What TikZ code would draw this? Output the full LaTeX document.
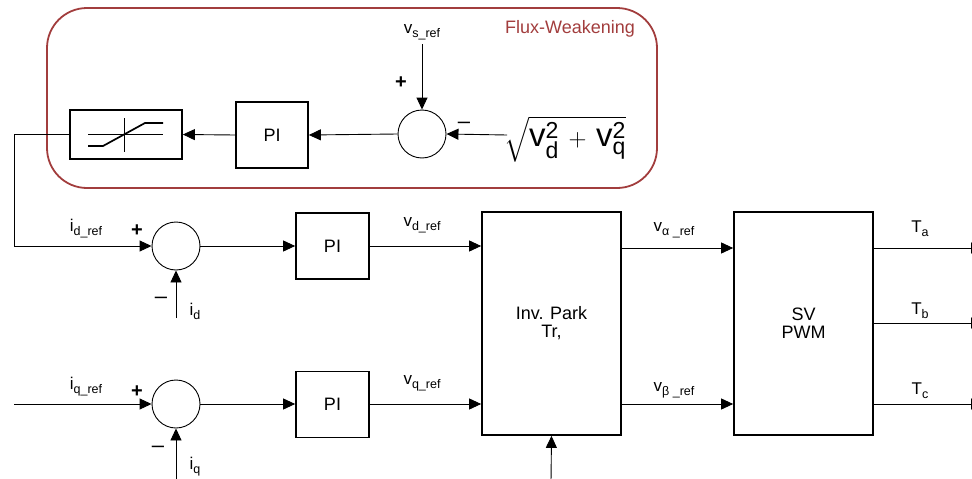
\documentclass[tikz,border=0pt]{standalone}
\usepackage{fontspec}
\setmainfont{Liberation Sans}
\usepackage{amsmath}
\usetikzlibrary{arrows.meta}
\definecolor{fwred}{HTML}{A23D3D}
\newcommand{\sublab}[2]{{\fontsize{17}{20}\selectfont #1}\raisebox{-4pt}{\fontsize{12.5}{14}\selectfont #2}}
\begin{document}
\begin{tikzpicture}[x=1pt,y=-1pt,
  blk/.style={draw, line width=1.7pt, inner sep=0pt, font=\fontsize{18}{21}\selectfont, align=center},
  sumc/.style={circle, draw, line width=0.9pt, minimum size=48pt, inner sep=0pt},
  wire/.style={line width=0.9pt},
  conn/.style={line width=0.9pt, -{Triangle[length=12pt,width=11pt]}},
  lab/.style={inner sep=0pt},
  sign/.style={inner sep=0pt, font=\fontsize{20}{22}\selectfont\bfseries},
  msign/.style={inner sep=0pt, font=\fontsize{22}{24}\selectfont}]
\useasboundingbox (0,0) rectangle (972,479);
\clip (0,0) rectangle (972,479);

% Flux-weakening frame
\node[draw=fwred, line width=1.8pt, rounded corners=40pt, minimum width=610pt, minimum height=180pt, inner sep=0pt] (fw) at (352,98) {};
\node[lab, text=fwred, font=\fontsize{18}{21}\selectfont] (fwt) at (570,29) {Flux-Weakening};

% top chain
\node[blk, minimum width=112pt, minimum height=49pt] (lim) at (126,134.5) {};
\draw[line width=0.9pt] ([shift={(-38pt,0)}]lim.center) -- ([shift={(37pt,0)}]lim.center);
\draw[line width=0.9pt] ([shift={(-2pt,-17pt)}]lim.center) -- ([shift={(-2pt,17pt)}]lim.center);
\draw[line width=1.7pt] ([shift={(-38pt,-11.5pt)}]lim.center) -- ([shift={(-23pt,-11.5pt)}]lim.center) -- ([shift={(19pt,11.5pt)}]lim.center) -- ([shift={(37pt,11.5pt)}]lim.center);

\node[blk, minimum width=72pt, minimum height=66pt] (pit) at (272,135) {PI};
\node[sumc] (sumt) at (422,134) {};
\node[lab] (vsref) at (422,32) {\sublab{v}{s\_ref}};
\node[sign] (pt) at (401,83) {+};
\node[msign] (mt) at (464,125) {–};
\node[lab, anchor=west] (sq) at (504,139) {\fontsize{33}{38}\selectfont $\sqrt{\text{v}_{\text{d}}^{\text{2}}\,+\,\text{v}_{\text{q}}^{\text{2}}}$};
\coordinate (sqin) at (507,135);
\coordinate (vsin) at (422,44);

\draw[conn] (vsin) -- (sumt.north);
\draw[conn] (sqin) -- (sumt.east);
\draw[conn] (sumt.west) -- (pit.east);
\draw[conn] (pit.west) -- (lim.east);

% d row
\node[sumc] (sumd) at (176,246) {};
\node[blk, minimum width=73pt, minimum height=66pt] (pid) at (332.5,246) {PI};
\coordinate (fb1) at (14,134.5);
\coordinate (fb2) at (14,246);
\draw[conn] (lim.west) -- (fb1) -- (fb2) -- (sumd.west);
\node[lab] (idref) at (86,229) {\sublab{i}{d\_ref}};
\node[sign] (pd) at (137,231) {+};
\node[msign] (md) at (161,300) {–};
\coordinate (idin) at (176,318);
\draw[conn] (idin) -- (sumd.south);
\node[lab] (id) at (195,311) {\sublab{i}{d}};
\draw[conn] (sumd.east) -- (pid.west);

% q row
\node[sumc] (sumq) at (176,404) {};
\node[blk, minimum width=73pt, minimum height=66pt] (piq) at (332.5,404.5) {PI};
\coordinate (iqrefin) at (14,404);
\draw[conn] (iqrefin) -- (sumq.west);
\node[lab] (iqref) at (86,387) {\sublab{i}{q\_ref}};
\node[sign] (pq) at (137,392) {+};
\node[msign] (mq) at (158,449) {–};
\coordinate (iqin) at (176,482);
\draw[conn] (iqin) -- (sumq.south);
\node[lab] (iq) at (195,467) {\sublab{i}{q}};
\draw[conn] (sumq.east) -- (sumq.east -| piq.west);

% Inverse Park
\node[blk, minimum width=139pt, minimum height=223pt] (park) at (551.5,323.5) {Inv. Park\\[-3pt]Tr,};
\draw[conn] (pid.east) -- (pid.east -| park.west);
\draw[conn] (sumq -| piq.east) -- (sumq -| park.west);
\node[lab] (vdref) at (422,225) {\sublab{v}{d\_ref}};
\node[lab] (vqref) at (422,383) {\sublab{v}{q\_ref}};
\coordinate (thin) at (551,482);
\draw[conn] (thin) -- (park.south);

% SVPWM
\node[blk, minimum width=139pt, minimum height=223pt] (sv) at (803.5,323.5) {SV\\[-3pt]PWM};
\coordinate (pa) at (621,248);
\coordinate (pb) at (621,404);
\draw[conn] (pa) -- (pa -| sv.west);
\draw[conn] (pb) -- (pb -| sv.west);
\node[lab] (valpha) at (674,230) {\sublab{v}{α \_ref}};
\node[lab] (vbeta) at (674,390) {\sublab{v}{β \_ref}};

% outputs
\coordinate (ta) at (983,248);
\coordinate (tb) at (983,323);
\coordinate (tc) at (983,404);
\draw[conn] (ta -| sv.east) -- (ta);
\draw[conn] (tb -| sv.east) -- (tb);
\draw[conn] (tc -| sv.east) -- (tc);
\node[lab] (lta) at (920,229) {\sublab{T}{a}};
\node[lab] (ltb) at (920,311) {\sublab{T}{b}};
\node[lab] (ltc) at (920,391) {\sublab{T}{c}};
\end{tikzpicture}
\end{document}
